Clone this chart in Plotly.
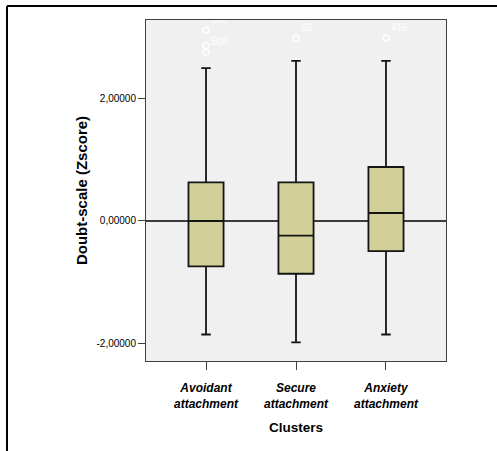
import plotly.graph_objects as go

# ---- data ----
categories = ["Avoidant attachment", "Secure attachment", "Anxiety attachment"]
category_labels = ["Avoidant<br>attachment", "Secure<br>attachment", "Anxiety<br>attachment"]
q1 = [-0.74, -0.86, -0.49]
median = [0.0, -0.24, 0.13]
q3 = [0.63, 0.63, 0.88]
lower_whisker = [-1.85, -1.98, -1.85]
upper_whisker = [2.49, 2.61, 2.61]

outlier_cat = ["Avoidant attachment", "Avoidant attachment", "Avoidant attachment",
               "Secure attachment", "Anxiety attachment"]
outlier_val = [3.11, 2.86, 2.75, 2.98, 2.98]
outlier_lbl = ["505", "", "506", "63", "416"]

y_tickvals = [-2, 0, 2]
y_ticktext = ["-2,00000", "0,00000", "2,00000"]

FONT = "Liberation Sans, Arial, Helvetica, sans-serif"

fig = go.Figure()
fig.add_trace(go.Box(
    x=categories,
    q1=q1, median=median, q3=q3,
    lowerfence=lower_whisker, upperfence=upper_whisker,
    boxpoints=False,
    width=0.39,
    whiskerwidth=0.27,
    fillcolor="#d3cf99",
    line=dict(color="#151515", width=1.8),
    hoverinfo="skip",
    showlegend=False,
))
fig.add_trace(go.Scatter(
    x=outlier_cat, y=outlier_val,
    mode="markers+text",
    text=outlier_lbl,
    textposition="top right",
    textfont=dict(family=FONT, size=10, color="#ffffff"),
    marker=dict(symbol="circle-open", size=6, color="#ffffff", line=dict(width=1.3, color="#ffffff")),
    cliponaxis=True,
    showlegend=False,
    hoverinfo="skip",
))

fig.update_layout(
    width=497, height=451,
    margin=dict(l=146, r=51, t=20, b=90),
    paper_bgcolor="#ffffff",
    plot_bgcolor="#f0f0f0",
    font=dict(family=FONT, color="#000000"),
    showlegend=False,
    shapes=[
        dict(type="line", xref="paper", yref="y", x0=0, x1=1, y0=0, y1=0,
             line=dict(color="#000000", width=1.3), layer="below"),
        dict(type="line", xref="paper", yref="paper", x0=-0.4633, x1=1.2, y0=1.041, y1=1.041,
             line=dict(color="#000000", width=2)),
        dict(type="line", xref="paper", yref="paper", x0=-0.4633, x1=-0.4633, y0=1.041, y1=-0.4,
             line=dict(color="#000000", width=2)),
    ],
)
fig.update_xaxes(
    type="category",
    categoryorder="array", categoryarray=categories,
    tickvals=categories, ticktext=["<b><i>%s</i></b>" % t for t in category_labels],
    tickfont=dict(family=FONT, size=12, color="#000000"),
    range=[-0.667, 2.667],
    ticks="outside", ticklen=8, tickcolor="#404040", tickwidth=1,
    ticklabelstandoff=8,
    showline=True, linecolor="#404040", linewidth=1, mirror=True,
    showgrid=False, zeroline=False,
    title=dict(text="<b>Clusters</b>", font=dict(family=FONT, size=13.5, color="#000000"), standoff=12),
)
fig.update_yaxes(
    range=[-2.282, 3.276],
    tickvals=y_tickvals, ticktext=y_ticktext,
    tickfont=dict(family=FONT, size=10, color="#000000"),
    ticks="outside", ticklen=7, tickcolor="#404040", tickwidth=1,
    showline=True, linecolor="#404040", linewidth=1, mirror=True,
    showgrid=False, zeroline=False,
    title=dict(text="<b>Doubt-scale (Zscore)</b>", font=dict(family=FONT, size=15, color="#000000"), standoff=5),
)

fig.write_html("out.html", config={"displayModeBar": False},
               post_script="document.body.style.margin='0';document.body.style.overflow='hidden';")
